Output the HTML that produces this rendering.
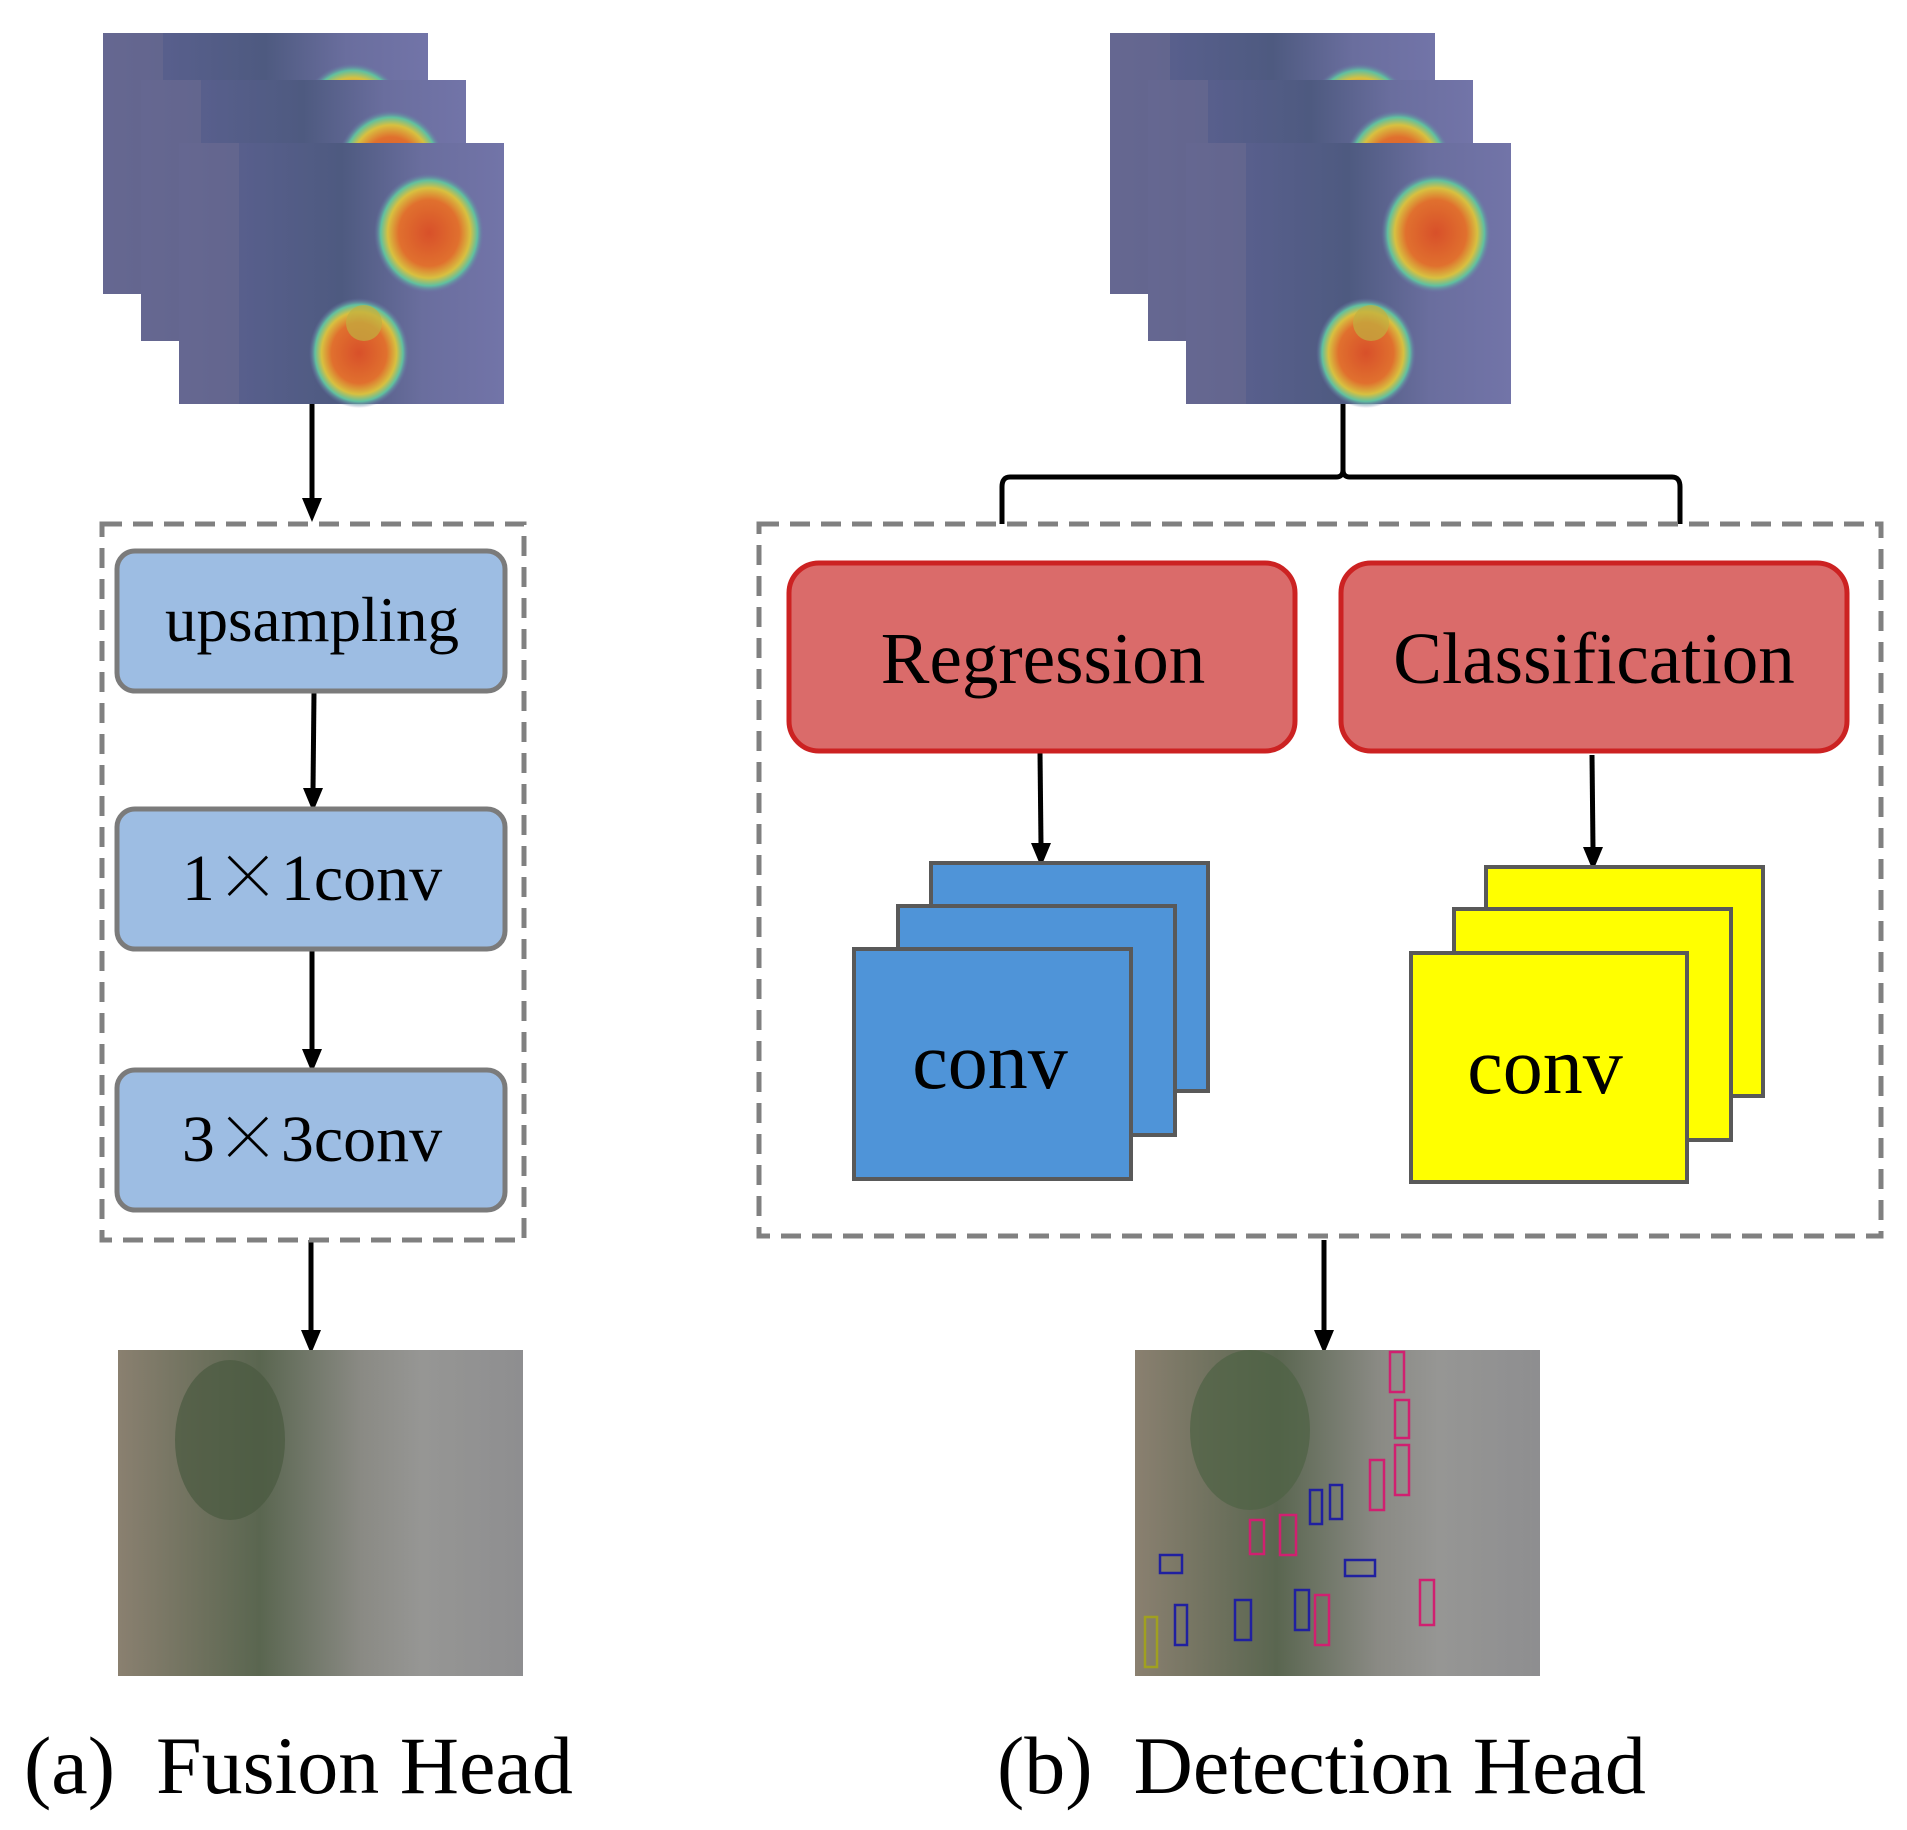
<!DOCTYPE html>
<html><head><meta charset="utf-8"><style>
html,body{margin:0;padding:0;background:#fff;}
svg{display:block;}
text{font-family:"Liberation Serif",serif;fill:#000;white-space:pre;}
</style></head><body>
<svg width="1907" height="1830" viewBox="0 0 1907 1830" xmlns="http://www.w3.org/2000/svg" xml:space="preserve">
<defs>
<radialGradient id="hot" cx="50%" cy="50%" r="50%">
<stop offset="0" stop-color="#d8502a"/><stop offset="0.55" stop-color="#e0702e"/><stop offset="0.75" stop-color="#d8c040"/><stop offset="0.88" stop-color="#60c0a0"/><stop offset="1" stop-color="#6c70a8" stop-opacity="0"/>
</radialGradient>
<linearGradient id="heat" x1="0" y1="0" x2="1" y2="0">
<stop offset="0" stop-color="#5e6294"/><stop offset="0.5" stop-color="#4e5a80"/><stop offset="0.75" stop-color="#6a6e9e"/><stop offset="1" stop-color="#7274a8"/>
</linearGradient>
<linearGradient id="photo" x1="0" y1="0" x2="1" y2="0">
<stop offset="0" stop-color="#8a8070"/><stop offset="0.35" stop-color="#5a6650"/><stop offset="0.6" stop-color="#8a8a84"/><stop offset="0.75" stop-color="#969694"/><stop offset="1" stop-color="#8e8e90"/>
</linearGradient>
<g id="hm">
<rect width="325" height="261" fill="url(#heat)"/>
<rect x="0" y="0" width="60" height="261" fill="#6a6a90" opacity="0.6"/>
<ellipse cx="250" cy="90" rx="55" ry="60" fill="url(#hot)"/>
<ellipse cx="180" cy="210" rx="50" ry="55" fill="url(#hot)"/>
<ellipse cx="185" cy="180" rx="18" ry="18" fill="#c0b040" opacity="0.7"/>
</g>
</defs>

<use href="#hm" x="103" y="33"/>
<use href="#hm" x="141" y="80"/>
<use href="#hm" x="179" y="143"/>
<use href="#hm" x="1110" y="33"/>
<use href="#hm" x="1148" y="80"/>
<use href="#hm" x="1186" y="143"/>

<g stroke="#000" stroke-width="5" fill="none">
<line x1="312" y1="404" x2="312" y2="500"/>
<line x1="314" y1="692" x2="313" y2="790"/>
<line x1="312" y1="950" x2="312" y2="1051"/>
<line x1="311" y1="1240" x2="311" y2="1332"/>
<line x1="1040" y1="752" x2="1041" y2="845"/>
<line x1="1592" y1="755" x2="1593" y2="849"/>
<line x1="1324" y1="1240" x2="1324" y2="1332"/>
<path d="M1343,404 L1343,470 Q1343,477 1336,477 L1010,477 Q1002,477 1002,487 L1002,524"/>
<path d="M1343,470 Q1343,477 1350,477 L1672,477 Q1680,477 1680,487 L1680,524"/>
</g>
<g fill="#000">
<path d="M302,498 L322,498 L312,522 z"/>
<path d="M303,788 L323,788 L313,812 z"/>
<path d="M302,1049 L322,1049 L312,1073 z"/>
<path d="M301,1330 L321,1330 L311,1354 z"/>
<path d="M1031,843 L1051,843 L1041,867 z"/>
<path d="M1583,847 L1603,847 L1593,871 z"/>
<path d="M1314,1330 L1334,1330 L1324,1354 z"/>
</g>

<rect x="102" y="524" width="422" height="716" fill="none" stroke="#808080" stroke-width="5" stroke-dasharray="20,11"/>
<rect x="759" y="524" width="1122" height="712" fill="none" stroke="#808080" stroke-width="5" stroke-dasharray="20,11"/>

<g fill="#9dbde3" stroke="#7b7b7b" stroke-width="5">
<rect x="117" y="551" width="388" height="140" rx="18"/>
<rect x="117" y="809" width="388" height="140" rx="18"/>
<rect x="117" y="1070" width="388" height="140" rx="18"/>
</g>
<text x="312" y="641" font-size="63" text-anchor="middle">upsampling</text>
<text x="312" y="900" font-size="66" text-anchor="middle">1<tspan font-family="Noto Serif CJK SC, serif" font-weight="200">×</tspan>1conv</text>
<text x="312" y="1161" font-size="66" text-anchor="middle">3<tspan font-family="Noto Serif CJK SC, serif" font-weight="200">×</tspan>3conv</text>

<g fill="#da6b6a" stroke="#cc2222" stroke-width="5">
<rect x="789" y="563" width="506" height="188" rx="30"/>
<rect x="1341" y="563" width="506" height="188" rx="30"/>
</g>
<text x="1043" y="683" font-size="73" text-anchor="middle">Regression</text>
<text x="1594" y="683" font-size="73" text-anchor="middle">Classification</text>

<g stroke="#595959" stroke-width="4">
<rect x="931" y="863" width="277" height="228" fill="#4f94d8"/>
<rect x="898" y="906" width="277" height="229" fill="#4f94d8"/>
<rect x="854" y="949" width="277" height="230" fill="#4f94d8"/>
<rect x="1486" y="867" width="277" height="229" fill="#ffff00"/>
<rect x="1454" y="909" width="277" height="231" fill="#ffff00"/>
<rect x="1411" y="953" width="276" height="229" fill="#ffff00"/>
</g>
<text x="990" y="1088" font-size="80" text-anchor="middle">conv</text>
<text x="1545" y="1093" font-size="80" text-anchor="middle">conv</text>

<rect x="118" y="1350" width="405" height="326" fill="url(#photo)"/>
<ellipse cx="230" cy="1440" rx="55" ry="80" fill="#4a5a40" opacity="0.7"/>
<rect x="1135" y="1350" width="405" height="326" fill="url(#photo)"/>
<ellipse cx="1250" cy="1430" rx="60" ry="80" fill="#4e6244" opacity="0.7"/>
<g fill="none" stroke-width="2.5">
<rect x="1390" y="1352" width="14" height="40" stroke="#d02070"/>
<rect x="1395" y="1400" width="14" height="38" stroke="#d02070"/>
<rect x="1395" y="1445" width="14" height="50" stroke="#d02070"/>
<rect x="1370" y="1460" width="14" height="50" stroke="#d02070"/>
<rect x="1310" y="1490" width="12" height="34" stroke="#2020a0"/>
<rect x="1330" y="1485" width="12" height="34" stroke="#2020a0"/>
<rect x="1250" y="1520" width="14" height="34" stroke="#d02070"/>
<rect x="1280" y="1515" width="16" height="40" stroke="#d02070"/>
<rect x="1160" y="1555" width="22" height="18" stroke="#2020a0"/>
<rect x="1345" y="1560" width="30" height="16" stroke="#2020a0"/>
<rect x="1420" y="1580" width="14" height="45" stroke="#d02070"/>
<rect x="1235" y="1600" width="16" height="40" stroke="#2020a0"/>
<rect x="1295" y="1590" width="14" height="40" stroke="#2020a0"/>
<rect x="1315" y="1595" width="14" height="50" stroke="#d02070"/>
<rect x="1145" y="1617" width="12" height="50" stroke="#a0a020"/>
<rect x="1175" y="1605" width="12" height="40" stroke="#2020a0"/>
</g>

<text x="24" y="1793" font-size="82">(a)  Fusion Head</text>
<text x="997" y="1793" font-size="82">(b)  Detection Head</text>
</svg>
</body></html>
